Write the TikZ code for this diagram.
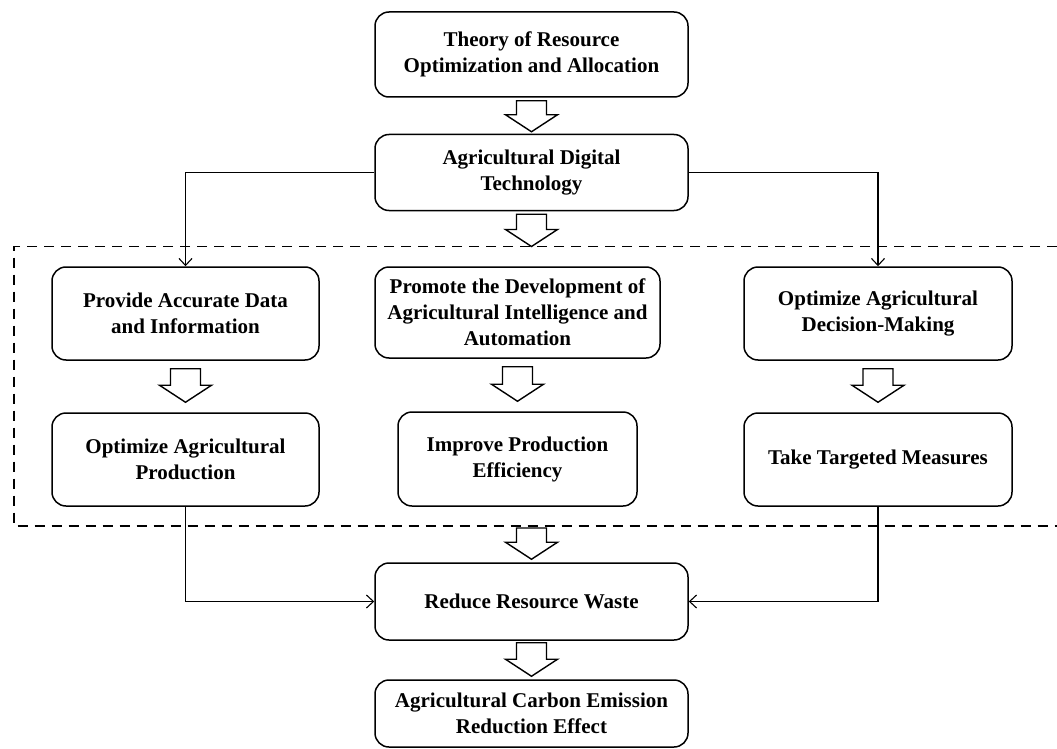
\documentclass[tikz,border=0pt]{standalone}
\usepackage{fontspec}
\setmainfont{Liberation Serif}
\usetikzlibrary{calc,arrows.meta}

% hollow block arrow pointing down from #1 to #2
\newcommand\hollowdown[2]{%
  \draw[blockarr] let \p1=(#1), \p2=(#2) in
    (\x1-15pt,\y1) -- (\x1+15pt,\y1) -- (\x1+15pt,\y2+17pt) -- (\x1+26pt,\y2+17pt)
    -- (\x1,\y2) -- (\x1-26pt,\y2+17pt) -- (\x1-15pt,\y2+17pt) -- cycle;}

\tikzset{
  box/.style={draw, line width=1.5pt, rounded corners=14pt, align=center,
    inner sep=0pt, font=\bfseries\fontsize{21}{26}\selectfont, fill=white},
  blockarr/.style={draw, line width=1.4pt, fill=white, line join=miter},
  conn/.style={line width=1.1pt, -{Straight Barb[length=7pt,width=13pt,line width=1.1pt]}},
  frame/.style={line width=1.7pt, dash pattern=on 10pt off 7pt}
}

\begin{document}
\begin{tikzpicture}[x=1pt,y=-1pt]
\useasboundingbox (0,0) rectangle (1057,749);

% dashed frame around the middle stage (open on the right)
\draw[frame] (1057,246.5) -- (14,246.5) -- (14,526) -- (1057,526);
\coordinate (ftop) at (531.5,246.5);
\coordinate (fbot) at (531.5,526);

\node[box, minimum width=313pt, minimum height=85pt] (t1) at (531.5,54.5)
  {Theory of Resource\\Optimization and Allocation};
\node[box, minimum width=313pt, minimum height=76pt] (t2) at (531.5,172.5)
  {Agricultural Digital\\Technology};

\node[box, minimum width=267pt, minimum height=93pt] (a1) at (185.5,313.5)
  {Provide Accurate Data\\and Information};
\node[box, minimum width=267pt, minimum height=93pt] (a2) at (185.5,459.5)
  {Optimize Agricultural\\Production};

\node[box, minimum width=285pt, minimum height=91pt] (m1) at (517.5,312.5)
  {Promote the Development of\\Agricultural Intelligence and\\Automation};
\node[box, minimum width=239pt, minimum height=94pt] (m2) at (517.5,459)
  {Improve Production\\Efficiency};

\node[box, minimum width=268pt, minimum height=93pt] (r1) at (878,313.5)
  {Optimize Agricultural\\Decision-Making};
\node[box, minimum width=268pt, minimum height=93pt] (r2) at (878,459.5)
  {Take Targeted Measures};

\node[box, minimum width=313pt, minimum height=77pt] (g) at (531.5,601.5)
  {Reduce Resource Waste};
\node[box, minimum width=313pt, minimum height=67pt] (h) at (531.5,713.5)
  {Agricultural Carbon Emission\\Reduction Effect};

% block arrows
\hollowdown{$(t1.south)+(0,3)$}{$(t2.north)+(0,-2)$}
\hollowdown{$(t2.south)+(0,3)$}{ftop}
\hollowdown{$(a1.south)+(0,8)$}{$(a2.north)+(0,-10)$}
\hollowdown{$(m1.south)+(0,8)$}{$(m2.north)+(0,-10)$}
\hollowdown{$(r1.south)+(0,8)$}{$(r2.north)+(0,-10)$}
\hollowdown{$(fbot)+(0,2)$}{$(g.north)+(0,-3)$}
\hollowdown{$(g.south)+(0,2)$}{$(h.north)+(0,-3)$}

% line connectors
\draw[conn] (t2.west) -| (a1.north);
\draw[conn] (t2.east) -| (r1.north);
\draw[conn] (a2.south) |- (g.west);
\draw[conn] (r2.south) |- (g.east);
\end{tikzpicture}
\end{document}
